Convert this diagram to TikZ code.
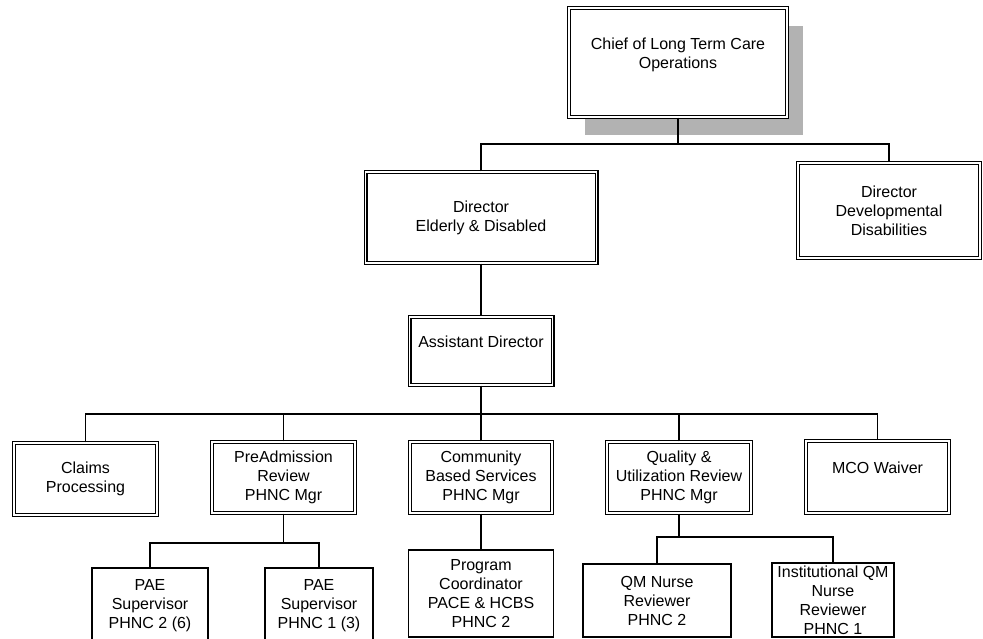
\documentclass[tikz,border=0pt]{standalone}
\usepackage{fontspec}
\setmainfont{Liberation Sans}
\usetikzlibrary{shadows}

\begin{document}
\begin{tikzpicture}[x=1pt, y=-1pt,
        every node/.style={align=center, inner sep=1pt, font=\fontsize{16}{19}\selectfont},
        mainbox/.style={draw, double, line width=1.1pt, double distance=1.8pt, fill=white},
        subbox/.style={draw, line width=1.2pt, fill=white},
        link/.style={line width=1.3pt}]
        % Page frame
        \useasboundingbox (0,0) rectangle (983,639);

        % Define the bus levels
        \coordinate (busTop) at (0,144);
        \coordinate (busMid) at (0,414);
        \coordinate (busPae) at (0,543);
        \coordinate (busQm) at (0,537);

        % Top of the chart
        \node (chief) at (678,62.5) [mainbox, minimum width=218pt, minimum height=109pt,
            drop shadow={shadow xshift=16pt, shadow yshift=-18pt, fill=black!30, opacity=1}]
            {Chief of Long Term Care\\Operations\\\mbox{}};
        \node (dirED) at (481,217.5) [mainbox, minimum width=231pt, minimum height=91pt]
            {Director\\Elderly \& Disabled};
        \node (dirDD) at (889,210.5) [mainbox, minimum width=182pt, minimum height=95pt]
            {Director\\Developmental\\Disabilities};
        \node (asst) at (481,351) [mainbox, minimum width=143pt, minimum height=68pt]
            {Assistant Director\\\mbox{}};

        % Units
        \node (claims) at (85.5,479) [mainbox, minimum width=143pt, minimum height=72pt]
            {Claims\\Processing};
        \node (preadm) at (283.5,477.5) [mainbox, minimum width=143pt, minimum height=71pt]
            {PreAdmission\\Review\\PHNC Mgr};
        \node (cbs) at (481,477.5) [mainbox, minimum width=142pt, minimum height=71pt]
            {Community\\Based Services\\PHNC Mgr};
        \node (qur) at (679,477.5) [mainbox, minimum width=144pt, minimum height=71pt]
            {Quality \&\\Utilization Review\\PHNC Mgr};
        \node (mco) at (877.5,477) [mainbox, minimum width=143pt, minimum height=72pt]
            {MCO Waiver\\\mbox{}};

        % Staff
        \node (pae2) at (150,605.5) [subbox, minimum width=116pt, minimum height=75pt]
            {PAE\\Supervisor\\PHNC 2 (6)};
        \node (pae1) at (319,605.5) [subbox, minimum width=108pt, minimum height=75pt]
            {PAE\\Supervisor\\PHNC 1 (3)};
        \node (prog) at (481,593.5) [subbox, minimum width=145pt, minimum height=87pt]
            {Program\\Coordinator\\PACE \& HCBS\\PHNC 2};
        \node (qmn) at (657,600.5) [subbox, minimum width=148pt, minimum height=73pt]
            {QM Nurse\\Reviewer\\PHNC 2};
        \node (inst) at (833,600) [subbox, minimum width=122pt, minimum height=74pt]
            {Institutional QM\\Nurse\\Reviewer\\PHNC 1};

        % Draw connectors
        \draw[link] (chief.south) -- (chief.south |- busTop);
        \draw[link] (dirED.north) |- (dirDD.north |- busTop) -- (dirDD.north);
        \draw[link] (dirED.south) -- (asst.north);

        \draw[link] (asst.south) -- (asst.south |- busMid);
        \draw[link] (claims.north) |- (mco.north |- busMid) -- (mco.north);
        \foreach \n in {preadm, cbs, qur}
            \draw[link] (\n.north) -- (\n.north |- busMid);

        \draw[link] (preadm.south) -- (preadm.south |- busPae);
        \draw[link] (pae2.north) |- (pae1.north |- busPae) -- (pae1.north);
        \draw[link] (cbs.south) -- (prog.north);
        \draw[link] (qur.south) -- (qur.south |- busQm);
        \draw[link] (qmn.north) |- (inst.north |- busQm) -- (inst.north);
    \end{tikzpicture}
\end{document}
